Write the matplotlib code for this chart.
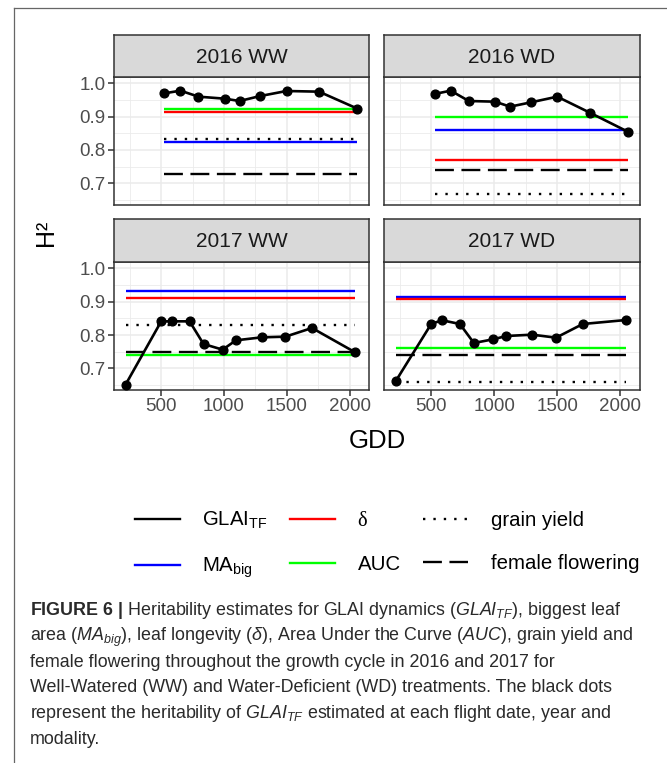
import matplotlib
matplotlib.use('Agg')
import matplotlib.pyplot as plt
from matplotlib.lines import Line2D

plt.rcParams['font.family'] = ['Liberation Sans', 'DejaVu Sans']
plt.rcParams['mathtext.fontset'] = 'custom'
plt.rcParams['mathtext.rm'] = 'Liberation Sans'
plt.rcParams['mathtext.it'] = 'Liberation Sans:italic'
plt.rcParams['mathtext.bf'] = 'Liberation Sans:bold'

# ---------------- data ----------------
panels = ['2016 WW', '2016 WD', '2017 WW', '2017 WD']
gdd_2016 = [525, 653, 797, 1005, 1124, 1290, 1498, 1757, 2063]
gdd_2017 = [216, 500, 587, 726, 837, 989, 1095, 1300, 1489, 1701, 2045]
h2_2016_ww = [0.970, 0.978, 0.960, 0.954, 0.947, 0.962, 0.977, 0.975, 0.924]
h2_2016_wd = [0.968, 0.978, 0.947, 0.945, 0.930, 0.943, 0.960, 0.912, 0.854]
h2_2017_ww = [0.651, 0.841, 0.841, 0.841, 0.773, 0.756, 0.784, 0.793, 0.795, 0.821, 0.748]
h2_2017_wd = [0.661, 0.834, 0.844, 0.833, 0.776, 0.787, 0.797, 0.801, 0.792, 0.833, 0.845]
# constant heritabilities per panel (2016 WW, 2016 WD, 2017 WW, 2017 WD)
ma_big = [0.824, 0.860, 0.931, 0.914]
delta = [0.915, 0.770, 0.910, 0.907]
auc = [0.922, 0.898, 0.741, 0.761]
grain_yield = [0.832, 0.668, 0.831, 0.659]
female_flowering = [0.729, 0.740, 0.749, 0.741]

x_ticks = [500, 1000, 1500, 2000]
y_ticks = [0.7, 0.8, 0.9, 1.0]

W, H = 667, 763
fig = plt.figure(figsize=(W / 100, H / 100), dpi=100)


def fx(px):
    return px / W


def fy(py):
    return 1 - py / H


def add_axes(x0, x1, y0, y1):
    return fig.add_axes([fx(x0), fy(y1), fx(x1 - x0), (y1 - y0) / H])


col_x = [(114, 369), (384, 640)]
row_y = [(35, 77, 205), (219, 262, 390)]

gdd_list = [gdd_2016, gdd_2016, gdd_2017, gdd_2017]
h2_list = [h2_2016_ww, h2_2016_wd, h2_2017_ww, h2_2017_wd]

LW = 1.7
dotted = (0, (1, 3.4))
dashed = (0, (8, 3.2))

for i, name in enumerate(panels):
    r, c = divmod(i, 2)
    x0, x1 = col_x[c]
    s0, p0, p1 = row_y[r]
    ax = add_axes(x0, x1, p0, p1)
    st = add_axes(x0, x1, s0, p0)

    # strip
    st.set_facecolor('#D9D9D9')
    st.set_xticks([]); st.set_yticks([])
    for s in st.spines.values():
        s.set_color('#333333'); s.set_linewidth(1.1)
    st.text(0.5, 0.47, name, ha='center', va='center', fontsize=15, color='#1A1A1A',
            transform=st.transAxes)

    gdd = gdd_list[i]
    xmin, xmax = min(gdd), max(gdd)
    ax.hlines(ma_big[i], xmin, xmax, color='#0000FF', lw=LW)
    ax.hlines(delta[i], xmin, xmax, color='#FF0000', lw=LW)
    ax.hlines(auc[i], xmin, xmax, color='#00FF00', lw=LW)
    ax.hlines(grain_yield[i], xmin, xmax, color='black', lw=LW, linestyles=dotted)
    ax.hlines(female_flowering[i], xmin, xmax, color='black', lw=LW, linestyles=dashed)
    ax.plot(gdd, h2_list[i], color='black', lw=1.9, marker='o', markersize=6.3, zorder=5)

    ax.set_xlim(124, 2155)
    ax.set_ylim(0.635, 1.019)
    ax.set_xticks(x_ticks)
    ax.set_xticks([250, 750, 1250, 1750], minor=True)
    ax.set_yticks(y_ticks)
    ax.set_yticks([0.65, 0.75, 0.85, 0.95], minor=True)
    ax.set_yticklabels([f'{v:.1f}' for v in y_ticks])
    ax.grid(which='major', color='#EBEBEB', lw=1.1)
    ax.grid(which='minor', color='#EBEBEB', lw=0.6)
    ax.set_axisbelow(True)
    for s in ax.spines.values():
        s.set_color('#333333'); s.set_linewidth(1.1)
    ax.tick_params(which='minor', length=0)
    ax.tick_params(which='major', length=4, width=1.1, color='#333333',
                   labelsize=13.5, labelcolor='#4D4D4D', pad=2)
    if r == 0:
        ax.tick_params(axis='x', length=0, labelbottom=False)
    if c == 1:
        ax.tick_params(axis='y', length=0, labelleft=False)

# axis titles
fig.text(fx(46), fy(233), 'H²', rotation=90, ha='center', va='center', fontsize=18)
fig.text(fx(377), fy(441), 'GDD', ha='center', va='center', fontsize=18.5)

# legend
handles = [
    Line2D([], [], color='black', lw=LW),
    Line2D([], [], color='#0000FF', lw=LW),
    Line2D([], [], color='#FF0000', lw=LW),
    Line2D([], [], color='#00FF00', lw=LW),
    Line2D([], [], color='black', lw=LW, linestyle=dotted),
    Line2D([], [], color='black', lw=LW, linestyle=dashed),
]
labels = [r'GLAI$_{\mathrm{TF}}$', r'MA$_{\mathrm{big}}$', 'δ', 'AUC',
          'grain yield', 'female flowering']
leg = fig.legend(handles, labels, ncol=3, loc='center',
                 bbox_to_anchor=(fx(387), fy(545)), frameon=False, fontsize=14.7,
                 handlelength=2.2, handletextpad=1.1, columnspacing=1.1,
                 labelspacing=1.2)
leg.get_texts()[2].set_family(['Liberation Serif', 'DejaVu Serif'])

# outer frame lines
fig.add_artist(Line2D([fx(14), 1], [fy(8), fy(8)], transform=fig.transFigure,
                      color='#666666', lw=0.9))
fig.add_artist(Line2D([fx(14), fx(14)], [fy(8), 0], transform=fig.transFigure,
                      color='#666666', lw=0.9))

# caption
caption = [
    r'$\mathbf{FIGURE\ 6\ |}$ Heritability estimates for GLAI dynamics ($\mathit{GLAI}_{\mathit{TF}}$), biggest leaf',
    r'area ($\mathit{MA}_{\mathit{big}}$), leaf longevity ($\mathit{\delta}$), Area Under the Curve ($\mathit{AUC}$), grain yield and',
    'female flowering throughout the growth cycle in 2016 and 2017 for',
    'Well-Watered (WW) and Water-Deficient (WD) treatments. The black dots',
    r'represent the heritability of $\mathit{GLAI}_{\mathit{TF}}$ estimated at each flight date, year and',
    'modality.',
]
for k, line in enumerate(caption):
    fig.text(fx(30), fy(615 + k * 25.8), line, ha='left', va='baseline',
             fontsize=12.9, color='#2A2A2A')

fig.savefig('out.png', dpi=100)
